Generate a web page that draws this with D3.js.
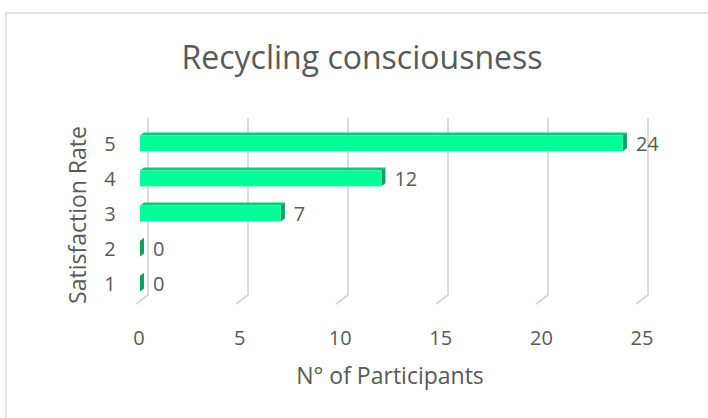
<!DOCTYPE html>
<html>
<head>
<meta charset="utf-8">
<script src="https://cdn.jsdelivr.net/npm/d3@7"></script>
<style>
  body { margin: 0; background: #fff; }
  text { font-family: "Open Sans", sans-serif; fill: #595959; }
</style>
</head>
<body>
<svg width="708" height="418"></svg>
<script>
// data
let categories = ["1", "2", "3", "4", "5"]
let participants = [0, 0, 7, 12, 24]
let xTicks = [0, 5, 10, 15, 20, 25]

let svg = d3.select("svg")

// chart border (only top and left show in the crop)
svg.append("rect")
    .attr("x", 6).attr("y", 13)
    .attr("width", 800).attr("height", 500)
    .attr("fill", "none")
    .attr("stroke", "#d9d9d9")
    .attr("stroke-width", 1.5)

// front face scale and back wall scale (3d look)
var xFront = d3.scaleLinear().domain([0, 25]).range([140, 643])
var xBack = d3.scaleLinear().domain([0, 25]).range([148, 648])
var yScale = d3.scaleBand()
    .domain(categories.slice().reverse())
    .range([125, 302])
    .paddingInner(0.55)
    .paddingOuter(0.3)

var depth = {dx: 4, dy: 3}

// gridlines on back wall + floor
var grid = svg.append("g").attr("id", "gridlines")
grid.selectAll("path")
    .data(xTicks)
    .join("path")
    .attr("d", d => "M" + xBack(d) + ",118 L" + xBack(d) + ",295 L" + (xBack(d) - 12) + ",304")
    .attr("fill", "none")
    .attr("stroke", "#d4d4d4")
    .attr("stroke-width", 1.6)

// bars
var bars = svg.append("g").attr("id", "bars")
var gs = bars.selectAll(".bar")
    .data(categories.map((c, i) => ({cat: c, v: participants[i]})))
    .join("g").attr("class", "bar")

gs.filter(d => d.v > 0).append("polygon") // top face
    .attr("points", function(d) {
        let x0 = xFront(0), x1 = xFront(d.v), y0 = yScale(d.cat)
        return [[x0, y0], [x0 + depth.dx, y0 - depth.dy], [x1 + depth.dx, y0 - depth.dy], [x1, y0]].join(" ")
    })
    .attr("fill", "#00cc7a")

gs.append("polygon") // side face
    .attr("points", function(d) {
        let x1 = xFront(d.v), y0 = yScale(d.cat), y1 = y0 + yScale.bandwidth()
        return [[x1, y0], [x1 + depth.dx, y0 - depth.dy], [x1 + depth.dx, y1 - depth.dy], [x1, y1]].join(" ")
    })
    .attr("fill", "#0e9f63")

gs.filter(d => d.v > 0).append("rect") // front face
    .attr("x", xFront(0))
    .attr("y", d => yScale(d.cat))
    .attr("width", d => xFront(d.v) - xFront(0))
    .attr("height", yScale.bandwidth())
    .attr("fill", "#00ff99")

gs.append("text")
    .attr("x", d => xFront(d.v) + 13)
    .attr("y", d => yScale(d.cat) + yScale.bandwidth() / 2)
    .attr("dy", "0.36em")
    .style("font-size", "20px")
    .text(d => d.v)

// y tick labels
svg.append("g").selectAll("text")
    .data(categories)
    .join("text")
    .attr("x", 110)
    .attr("y", d => yScale(d) + yScale.bandwidth() / 2)
    .attr("dy", "0.36em")
    .attr("text-anchor", "middle")
    .style("font-size", "20px")
    .text(d => d)

// x tick labels
svg.append("g").selectAll("text")
    .data(xTicks)
    .join("text")
    .attr("x", d => xFront(d) - 1)
    .attr("y", 345)
    .attr("text-anchor", "middle")
    .style("font-size", "20px")
    .text(d => d)

// titles
svg.append("text")
    .attr("x", 362).attr("y", 69)
    .attr("text-anchor", "middle")
    .style("font-size", "32px")
    .text("Recycling consciousness")

svg.append("text")
    .attr("x", 390).attr("y", 384)
    .attr("text-anchor", "middle")
    .style("font-size", "23px")
    .text("N° of Participants")

svg.append("text")
    .attr("transform", "translate(86,215) rotate(-90)")
    .attr("text-anchor", "middle")
    .style("font-size", "23px")
    .text("Satisfaction Rate")
</script>
</body>
</html>
